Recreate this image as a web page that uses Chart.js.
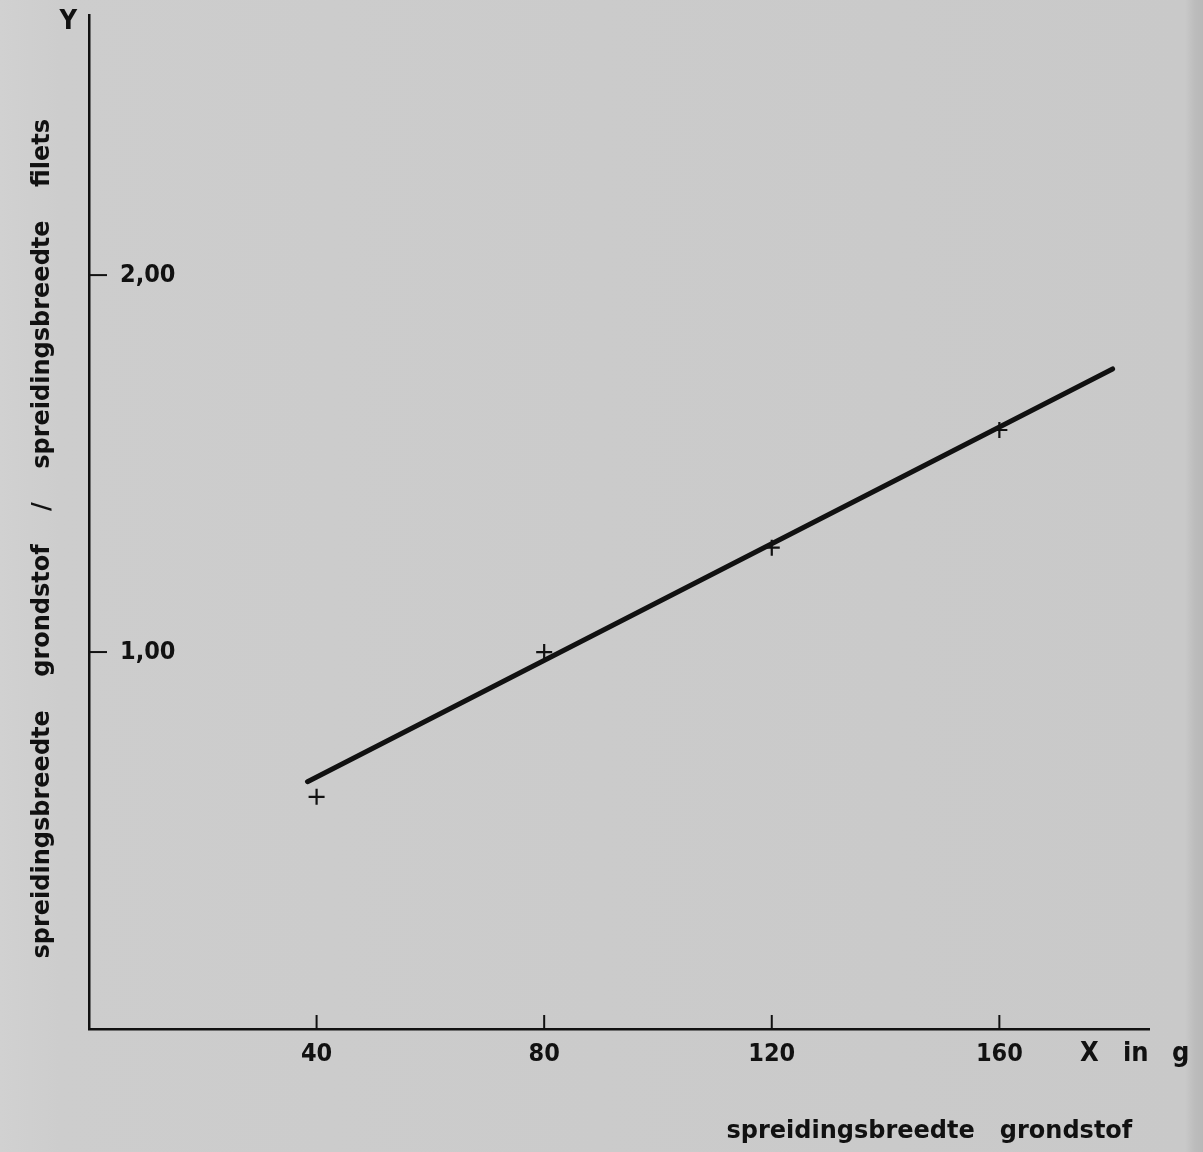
<!DOCTYPE html>
<html lang="nl">
<head>
    <meta charset="UTF-8">
    <title>Spreidingsbreedte</title>
    <script src="https://cdn.jsdelivr.net/npm/chart.js"></script>
    <style>
        html, body { margin: 0; padding: 0; }
        body {
            width: 1203px; height: 1152px; overflow: hidden;
            background: linear-gradient(to right, #d1d1d1 0px, #cdcdcd 60px, #cbcbcb 600px, #c9c9c9 1185px, #bcbcbc 1195px, #b8b8b8 1203px);
        }
        #wrap { position: relative; width: 1203px; height: 1152px; }
    </style>
</head>
<body>
<div id="wrap"><canvas id="grafiek"></canvas></div>
<script>
    // meetpunten: X in g tegen Y
    const xWaarden = [40, 80, 120, 160];
    const yWaarden = [0.616, 1.0, 1.277, 1.589];

    // getrokken regressielijn (begin- en eindpunt)
    const lijnX = [38.4, 179.9];
    const lijnY = [0.656, 1.751];

    // as-ticks
    const xTicks = [40, 80, 120, 160];
    const yTicks = [1, 2];

    const xTitel = 'spreidingsbreedte   grondstof  ';
    const yTitel = 'spreidingsbreedte    grondstof    /    spreidingsbreedte    filets    ';

    const inkt = '#111111';
    const tickFont = { family: '"DejaVu Sans Condensed", "Liberation Sans Narrow", sans-serif', size: 25, weight: 'bold' };
    const titelFont = { family: '"DejaVu Sans", sans-serif', size: 24, weight: 'bold' };

    const punten = xWaarden.map((x, i) => ({ x: x, y: yWaarden[i] }));
    const lijn = lijnX.map((x, i) => ({ x: x, y: lijnY[i] }));

    // tickstreepjes naar binnen en losse labels "Y" en "X in g"
    const asPlugin = {
        id: 'asPlugin',
        afterDraw(chart) {
            const ctx = chart.ctx;
            const xs = chart.scales.x;
            const ys = chart.scales.y;
            const area = chart.chartArea;
            ctx.save();
            ctx.strokeStyle = inkt;
            ctx.lineWidth = 2;
            yTicks.forEach(v => {
                const py = ys.getPixelForValue(v);
                ctx.beginPath();
                ctx.moveTo(area.left, py);
                ctx.lineTo(area.left + 18, py);
                ctx.stroke();
            });
            xTicks.forEach(v => {
                const px = xs.getPixelForValue(v);
                ctx.beginPath();
                ctx.moveTo(px, area.bottom);
                ctx.lineTo(px, area.bottom - 14);
                ctx.stroke();
            });
            ctx.fillStyle = inkt;
            ctx.font = 'bold 27px "DejaVu Sans Condensed", sans-serif';
            ctx.textBaseline = 'middle';
            ctx.textAlign = 'right';
            ctx.fillText('Y', area.left - 12, area.top + 7);
            ctx.textAlign = 'left';
            const ly = area.bottom + 25;
            ctx.fillText('X', area.right - 69, ly);
            ctx.fillText('in', area.right - 26, ly);
            ctx.fillText('g', area.right + 23, ly);
            ctx.restore();
        }
    };

    new Chart(document.getElementById('grafiek'), {
        type: 'scatter',
        data: {
            datasets: [
                {
                    label: 'lijn',
                    data: lijn,
                    showLine: true,
                    borderColor: inkt,
                    borderWidth: 5,
                    borderCapStyle: 'round',
                    pointRadius: 0,
                    pointHoverRadius: 0
                },
                {
                    label: 'meetpunten',
                    data: punten,
                    pointStyle: 'cross',
                    pointRadius: 8,
                    pointBorderWidth: 2.2,
                    pointBorderColor: inkt,
                    borderColor: inkt,
                    backgroundColor: inkt
                }
            ]
        },
        options: {
            responsive: true,
            maintainAspectRatio: false,
            animation: false,
            layout: { padding: { left: 10, right: 54, top: 15, bottom: 6 } },
            plugins: {
                legend: { display: false },
                tooltip: { enabled: false }
            },
            scales: {
                x: {
                    type: 'linear',
                    min: 0,
                    max: 186.3,
                    afterFit: s => { s.height = 117; s.paddingLeft = 0; s.paddingRight = 0; },
                    grid: { display: false, drawTicks: false },
                    border: { display: true, color: inkt, width: 2.5 },
                    ticks: {
                        stepSize: 40,
                        includeBounds: false,
                        padding: 10,
                        color: inkt,
                        font: tickFont,
                        maxRotation: 0,
                        callback: v => xTicks.includes(v) ? String(v) : ''
                    },
                    title: {
                        display: true,
                        text: xTitel,
                        align: 'end',
                        color: inkt,
                        font: titelFont,
                        padding: { top: 50, bottom: 0 }
                    }
                },
                y: {
                    type: 'linear',
                    min: 0,
                    max: 2.69,
                    afterFit: s => { s.width = 79; s.paddingTop = 0; s.paddingBottom = 0; },
                    grid: { display: false, drawTicks: false },
                    border: { display: true, color: inkt, width: 2.5 },
                    ticks: {
                        stepSize: 1,
                        includeBounds: false,
                        mirror: true,
                        padding: 31,
                        color: inkt,
                        font: tickFont,
                        callback: v => yTicks.includes(v) ? v.toFixed(2).replace('.', ',') : ''
                    },
                    title: {
                        display: true,
                        text: yTitel,
                        color: inkt,
                        font: titelFont,
                        padding: { top: 18, bottom: 33 }
                    }
                }
            }
        },
        plugins: [asPlugin]
    });
</script>
</body>
</html>
